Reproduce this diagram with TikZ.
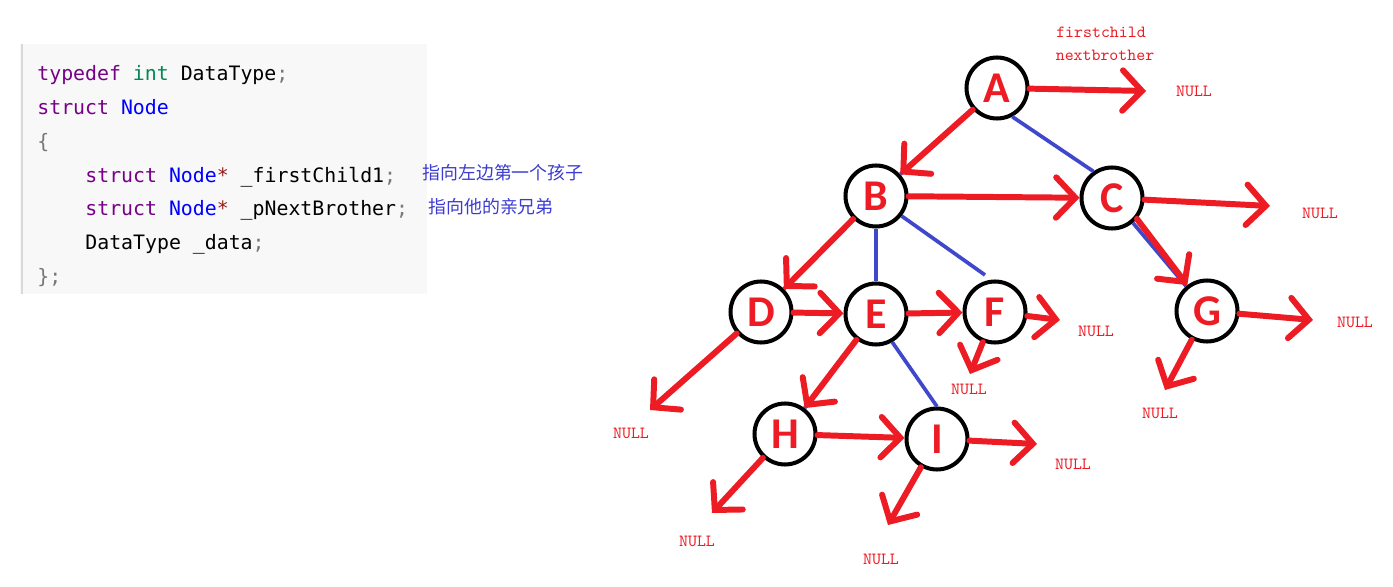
\documentclass[tikz,border=0pt]{standalone}
\usepackage{fontspec}
\usepackage{xcolor}
\newfontfamily\codefont{DejaVu Sans Mono}
\newfontfamily\cjk{Noto Sans CJK SC}
\newfontfamily\letterfont{Carlito}
\usetikzlibrary{arrows.meta}

\definecolor{paintred}{RGB}{237,28,36}
\definecolor{paintblue}{RGB}{63,72,204}
\definecolor{noteblue}{RGB}{60,60,210}
\definecolor{kwpurple}{RGB}{119,0,136}
\definecolor{tygreen}{RGB}{0,136,85}
\definecolor{nameblue}{RGB}{0,0,255}
\definecolor{stardark}{RGB}{152,26,26}
\definecolor{punctgray}{RGB}{119,119,119}
\definecolor{codebg}{RGB}{248,248,248}

\newcommand{\kw}[1]{\textcolor{kwpurple}{#1}}
\newcommand{\nm}[1]{\textcolor{nameblue}{#1}}
\newcommand{\pu}[1]{\textcolor{punctgray}{#1}}
\newcommand{\st}{\textcolor{stardark}{*}}

\begin{document}
\begin{tikzpicture}[
  x=0.02cm, y=-0.02cm,
  vertex/.style={circle, draw=black, line width=2.3pt, fill=white, minimum size=1.22cm, inner sep=0pt, text=paintred, font=\letterfont\bfseries\fontsize{25}{25}\selectfont},
  ptr/.style={draw=paintred, line width=3.4pt, line cap=round, -{Straight Barb[length=11pt, width=23pt, line cap=round]}},
  link/.style={draw=paintblue, line width=2.1pt},
  nul/.style={text=paintred, font=\ttfamily\fontsize{9.7}{11}\selectfont, inner sep=0pt},
  code/.style={anchor=base west, inner sep=0pt, font=\codefont\fontsize{11.3}{13}\selectfont},
  note/.style={anchor=base west, inner sep=0pt, text=noteblue, font=\cjk\fontsize{10.2}{12}\selectfont}
]
\fill[white] (0,0) rectangle (1393,587);
\useasboundingbox (0,0) rectangle (1393,587);

% code box
\fill[codebg] (20,44) rectangle (427,294);
\draw[black!15, line width=1pt] (22,44) -- (22,294);
\node[code] (l1) at (37,81) {\kw{typedef} \textcolor{tygreen}{int} DataType\pu{;}};
\node[code] (l2) at (37,115) {\kw{struct} \nm{Node}};
\node[code] (l3) at (37,149) {\pu{\{}};
\node[code] (l4) at (85,183) {\kw{struct} \nm{Node}\st{} \_firstChild1\pu{;}};
\node[code] (l5) at (85,216) {\kw{struct} \nm{Node}\st{} \_pNextBrother\pu{;}};
\node[code] (l6) at (85,250) {DataType \_data\pu{;}};
\node[code] (l7) at (37,284) {\pu{\};}};
\node[note] (n1) at (422,180) {指向左边第一个孩子};
\node[note] (n2) at (428,214) {指向他的亲兄弟};

% tree nodes
\node[vertex] (a) at (997,88) {A};
\node[vertex] (b) at (876,196) {B};
\node[vertex] (c) at (1112,198) {C};
\node[vertex] (d) at (761,312) {D};
\node[vertex] (e) at (876,314) {E};
\node[vertex] (f) at (995,312) {F};
\node[vertex] (g) at (1207,311) {G};
\node[vertex] (h) at (785,434) {H};
\node[vertex] (i) at (937,439) {I};

% labels
\node[nul] (fc) at (1101,32) {firstchild};
\node[nul] (nb) at (1105,55) {nextbrother};
\node[nul] (nullA) at (1194,91) {NULL};
\node[nul] (nullC) at (1320,213) {NULL};
\node[nul] (nullF) at (1096,331) {NULL};
\node[nul] (nullG) at (1355,322) {NULL};
\node[nul] (nullFd) at (969,389) {NULL};
\node[nul] (nullGd) at (1160,413) {NULL};
\node[nul] (nullDd) at (631,433) {NULL};
\node[nul] (nullI) at (1073,464) {NULL};
\node[nul] (nullHd) at (697,541) {NULL};
\node[nul] (nullId) at (881,559) {NULL};

% arrow ends
\coordinate (endA) at (1146,91);
\coordinate (endC) at (1270,206);
\coordinate (endF) at (1060,320);
\coordinate (endFd) at (970,374);
\coordinate (endG) at (1313,320);
\coordinate (endGd) at (1165,390);
\coordinate (endDd) at (650,410);
\coordinate (endI) at (1037,444);
\coordinate (endHd) at (712,513);
\coordinate (endId) at (888,525);
\coordinate (bfEnd) at (985,275);

% tree edges
\draw[link] (a) -- (b);
\draw[link] (a.-62) -- (c.125);
\draw[link] (b) -- (d);
\draw[link] (b) -- (e);
\draw[link] (b.-38) -- (bfEnd);
\draw[link] (c) -- (g);
\draw[link] (e) -- (h);
\draw[link] (e.-60) -- (i.north);

% pointers
\draw[ptr] (a) -- (endA);
\draw[ptr] (a) -- (b);
\draw[ptr] (b) -- (c);
\draw[ptr] (c) -- (endC);
\draw[ptr] (c.-40) -- (g);
\draw[ptr] (b) -- (d);
\draw[ptr] (d) -- (e);
\draw[ptr] (e) -- (f);
\draw[ptr] (f) -- (endF);
\draw[ptr] (f) -- (endFd);
\draw[ptr] (g) -- (endG);
\draw[ptr] (g) -- (endGd);
\draw[ptr] (d) -- (endDd);
\draw[ptr] (e) -- (h);
\draw[ptr] (h) -- (i);
\draw[ptr] (i) -- (endI);
\draw[ptr] (h) -- (endHd);
\draw[ptr] (i) -- (endId);
\end{tikzpicture}
\end{document}
